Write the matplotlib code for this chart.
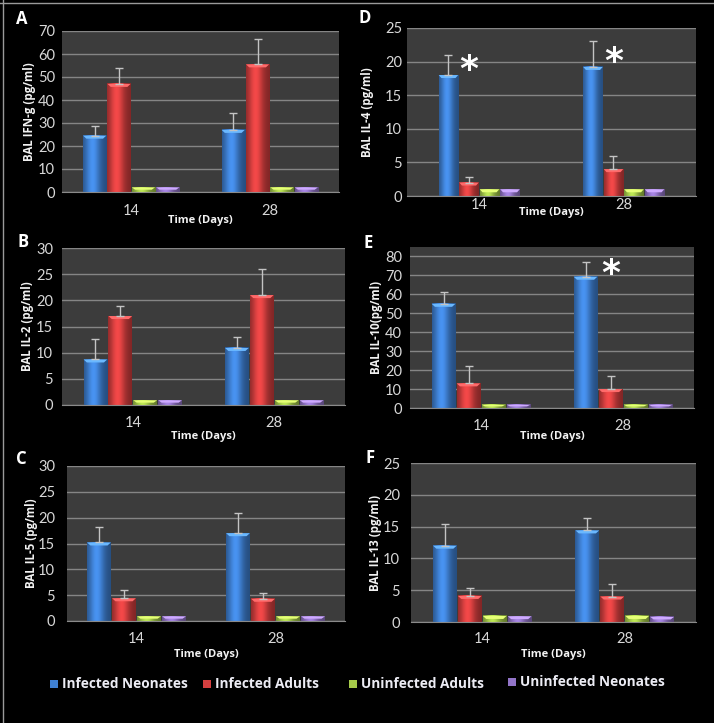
import matplotlib
matplotlib.use("Agg")
import matplotlib.pyplot as plt
import matplotlib.colors as mcolors
from matplotlib.patches import Rectangle, Polygon
from matplotlib.lines import Line2D
import numpy as np

plt.rcParams['font.family'] = ['Lato', 'DejaVu Sans']
BOLD = ['Open Sans', 'DejaVu Sans']

days = ["14", "28"]
groups = ["Infected Neonates", "Infected Adults", "Uninfected Adults", "Uninfected Neonates"]
colors = ["#3f80d2", "#d43f3f", "#a6cb4a", "#9274c8"]

# mean values per group (rows) for day 14 / day 28, and upper error
ifng = [[24.5, 27.0], [47.0, 55.5], [2.0, 2.0], [2.0, 2.0]]
ifng_err = [[4.0, 7.3], [6.9, 11.0], [0, 0], [0, 0]]

il4 = [[18.0, 19.2], [2.0, 4.0], [1.0, 1.0], [1.0, 1.0]]
il4_err = [[3.0, 3.9], [0.8, 2.0], [0, 0], [0, 0]]
il4_star = [19.9, 21.1]

il2 = [[8.7, 10.9], [17.0, 21.0], [0.9, 0.9], [0.9, 0.9]]
il2_err = [[4.0, 2.1], [2.0, 5.0], [0, 0], [0, 0]]

il10 = [[55.0, 69.3], [13.0, 10.0], [1.7, 1.7], [1.7, 1.7]]
il10_err = [[6.3, 7.9], [9.0, 7.0], [0, 0], [0, 0]]
il10_star = [None, 75.2]

il5 = [[15.2, 17.0], [4.4, 4.3], [0.9, 0.9], [0.9, 0.9]]
il5_err = [[3.0, 4.0], [1.6, 1.2], [0, 0], [0, 0]]

il13 = [[12.0, 14.4], [4.1, 4.0], [0.95, 0.95], [0.9, 0.8]]
il13_err = [[3.4, 1.9], [1.3, 2.0], [0, 0], [0, 0]]

W, H = 714, 723
fig = plt.figure(figsize=(W / 100, H / 100), dpi=100)
fig.patch.set_facecolor("black")

# panel layout in pixels: left, top, right, bottom
panels = [
    dict(letter="A", box=(62, 31, 339, 192), data=ifng, err=ifng_err, star=None, ymax=70, ystep=10,
         ylabel="BAL IFN-g (pg/ml)", step=0.176, lab_x=30, xt=18, xl=29, yp=7, let=(22, 19)),
    dict(letter="D", box=(407, 28, 696, 196), data=il4, err=il4_err, star=il4_star, ymax=25, ystep=5,
         ylabel="BAL IL-4 (pg/ml)", step=0.142, lab_x=367, xt=8, xl=17, yp=5, let=(365, 18)),
    dict(letter="B", box=(62, 248, 345, 405), data=il2, err=il2_err, star=None, ymax=30, ystep=5,
         ylabel="BAL IL-2 (pg/ml)", step=0.176, lab_x=28, xt=17, xl=32, yp=9, let=(23, 242)),
    dict(letter="E", box=(410, 247, 694, 408), data=il10, err=il10_err, star=il10_star, ymax=85, ystep=10,
         ylabel="BAL IL-10(pg/ml)", step=0.176, lab_x=377, xt=17, xl=29, yp=8, let=(368, 243), ytop=80),
    dict(letter="C", box=(67, 466, 345, 621), data=il5, err=il5_err, star=None, ymax=30, ystep=5,
         ylabel="BAL IL-5 (pg/ml)", step=0.18, lab_x=32, xt=17, xl=33, yp=12, let=(21, 459)),
    dict(letter="F", box=(411, 463, 696, 622), data=il13, err=il13_err, star=None, ymax=25, ystep=5,
         ylabel="BAL IL-13 (pg/ml)", step=0.175, lab_x=376, xt=16, xl=32, yp=11, let=(370, 458)),
]


def shade(ax, rects, color, ppu):
    rgb = np.array(mcolors.to_rgb(color))
    t = np.linspace(0, 1, 40)
    k = 0.6 + 0.55 * np.exp(-((t - 0.4) / 0.32) ** 2)
    img = np.clip(rgb[None, None, :] * k[None, :, None], 0, 1)
    hi = np.clip(rgb * 1.2 + 0.12, 0, 1)
    for r in rects:
        x0, w, h = r.get_x(), r.get_width(), r.get_height()
        ax.imshow(img, extent=[x0, x0 + w, 0, h], aspect="auto",
                  interpolation="bilinear", zorder=2)
        d = min(3.0 / ppu, h * 0.5)
        ax.add_patch(Polygon([[x0, h], [x0 + w, h], [x0 + w * 0.86, h - d], [x0 + w * 0.14, h - d]],
                             closed=True, facecolor=hi, lw=0, zorder=3))


x = np.arange(len(days))
for p in panels:
    l, t, r, b = p["box"]
    ax = fig.add_axes([l / W, 1 - b / H, (r - l) / W, (b - t) / H])
    ax.set_facecolor("#3c3c3c")
    ax.set_axisbelow(True)
    ppu = (b - t) / p["ymax"]
    step = p["step"]
    for i, g in enumerate(groups):
        xs = x + (i - 1.5) * step
        bars = ax.bar(xs, p["data"][i], width=step * 0.95, color=colors[i], zorder=2, lw=0)
        shade(ax, bars, colors[i], ppu)
        e = np.array(p["err"][i])
        m = e > 0
        if m.any():
            ax.errorbar(xs[m], np.array(p["data"][i])[m], yerr=[np.zeros(m.sum()), e[m]],
                        fmt="none", ecolor="#c4c4c4", elinewidth=1, capsize=3, capthick=1, zorder=4)
    if p["star"] is not None:
        for j, s in enumerate(p["star"]):
            if s is None:
                continue
            ax.annotate("*", xy=(x[j] - 0.5 * step, s), xytext=(0, -13), textcoords="offset points",
                        ha="center", va="baseline", fontsize=26, fontweight="bold",
                        color="white", family="DejaVu Sans", zorder=5)
    ax.set_xlim(-0.5, 1.5)
    ax.set_ylim(0, p["ymax"])
    ytop = p.get("ytop", p["ymax"])
    ax.set_yticks(np.arange(0, ytop + 0.1, p["ystep"]))
    ax.set_xticks(x)
    ax.set_xticklabels(days)
    ax.grid(axis="y", color="#858585", lw=1)
    for s in ["top", "left", "right"]:
        ax.spines[s].set_visible(False)
    ax.spines["bottom"].set_color("#8a8a8a")
    ax.tick_params(axis="both", length=0, colors="#d8d8d8", labelsize=10.5)
    ax.tick_params(axis="x", pad=(p["xt"] - 6) * 0.72)
    ax.tick_params(axis="y", pad=p["yp"] * 0.72)
    ax.set_xlabel("Time (Days)", color="#f2f2f2", fontsize=8, fontweight="bold", va="center", family=BOLD)
    ax.xaxis.set_label_coords(0.5, -p["xl"] / (b - t))
    ax.set_ylabel(p["ylabel"], color="#f2f2f2", fontsize=8.3, fontweight="bold", va="center", family=BOLD)
    ax.yaxis.set_label_coords((p["lab_x"] - l) / (r - l), 0.5)
    lx, ly = p["let"]
    fig.text(lx / W, 1 - ly / H, p["letter"], color="white", fontsize=12, fontweight="bold",
             ha="center", va="center", family=BOLD)

# legend
leg_sq = [50, 203, 349, 508]
leg_y = [684, 684, 684, 682]
for i, g in enumerate(groups):
    fig.patches.append(Rectangle((leg_sq[i] / W, 1 - (leg_y[i] + 4) / H), 8 / W, 8 / H,
                                 transform=fig.transFigure, facecolor=colors[i], lw=0))
    fig.text((leg_sq[i] + 12) / W, 1 - leg_y[i] / H, g, color="#ececf4", fontsize=9.8,
             fontweight="bold", ha="left", va="center", family=BOLD)

# thin frame on top/left edges
fig.add_artist(Line2D([0, 1], [1 - 2.5 / H, 1 - 2.5 / H], transform=fig.transFigure, color="#9a9a9a", lw=1))
fig.add_artist(Line2D([2.5 / W, 2.5 / W], [0, 1], transform=fig.transFigure, color="#9a9a9a", lw=1))

fig.savefig("out.png", dpi=100, facecolor="black")
